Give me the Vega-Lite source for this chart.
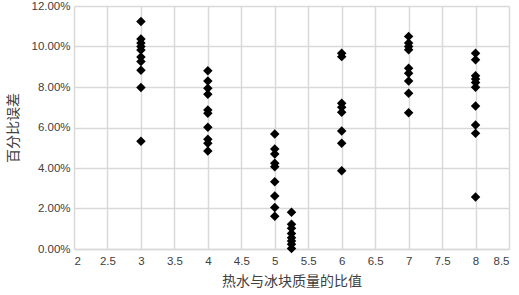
{
  "$schema": "https://vega.github.io/schema/vega-lite/v6.json",
  "autosize": {"type": "none"},
  "padding": {"left": 74, "top": 6, "right": 10, "bottom": 46},
  "width": 435,
  "height": 243,
  "background": "white",
  "config": {"view": {"stroke": null}},
  "data": {"values": [
    {"ratio": 3, "err": 0.1124}, {"ratio": 3, "err": 0.1037}, {"ratio": 3, "err": 0.1017}, {"ratio": 3, "err": 0.1000}, {"ratio": 3, "err": 0.0983},
    {"ratio": 3, "err": 0.0948}, {"ratio": 3, "err": 0.0926}, {"ratio": 3, "err": 0.0883}, {"ratio": 3, "err": 0.0797}, {"ratio": 3, "err": 0.0532},
    {"ratio": 4, "err": 0.0880}, {"ratio": 4, "err": 0.0830}, {"ratio": 4, "err": 0.0794}, {"ratio": 4, "err": 0.0764}, {"ratio": 4, "err": 0.0687},
    {"ratio": 4, "err": 0.0670}, {"ratio": 4, "err": 0.0601}, {"ratio": 4, "err": 0.0542}, {"ratio": 4, "err": 0.0522}, {"ratio": 4, "err": 0.0484},
    {"ratio": 5, "err": 0.0568}, {"ratio": 5, "err": 0.0494}, {"ratio": 5, "err": 0.0469}, {"ratio": 5, "err": 0.0423}, {"ratio": 5, "err": 0.0406},
    {"ratio": 5, "err": 0.0332}, {"ratio": 5, "err": 0.0262}, {"ratio": 5, "err": 0.0205}, {"ratio": 5, "err": 0.0162},
    {"ratio": 5.25, "err": 0.0182}, {"ratio": 5.25, "err": 0.0122}, {"ratio": 5.25, "err": 0.0102}, {"ratio": 5.25, "err": 0.0076}, {"ratio": 5.25, "err": 0.0056},
    {"ratio": 5.25, "err": 0.0040}, {"ratio": 5.25, "err": 0.0023}, {"ratio": 5.25, "err": 0.0002},
    {"ratio": 6, "err": 0.0967}, {"ratio": 6, "err": 0.0950}, {"ratio": 6, "err": 0.0720}, {"ratio": 6, "err": 0.0700}, {"ratio": 6, "err": 0.0675},
    {"ratio": 6, "err": 0.0583}, {"ratio": 6, "err": 0.0522}, {"ratio": 6, "err": 0.0386},
    {"ratio": 7, "err": 0.1050}, {"ratio": 7, "err": 0.1017}, {"ratio": 7, "err": 0.1000}, {"ratio": 7, "err": 0.0984}, {"ratio": 7, "err": 0.0893},
    {"ratio": 7, "err": 0.0868}, {"ratio": 7, "err": 0.0830}, {"ratio": 7, "err": 0.0769}, {"ratio": 7, "err": 0.0673},
    {"ratio": 8, "err": 0.0967}, {"ratio": 8, "err": 0.0934}, {"ratio": 8, "err": 0.0855}, {"ratio": 8, "err": 0.0839}, {"ratio": 8, "err": 0.0822},
    {"ratio": 8, "err": 0.0799}, {"ratio": 8, "err": 0.0706}, {"ratio": 8, "err": 0.0612}, {"ratio": 8, "err": 0.0571}, {"ratio": 8, "err": 0.0257}
  ]},
  "mark": {"type": "point", "shape": "diamond", "filled": true, "color": "black", "opacity": 1, "size": 90},
  "encoding": {
    "x": {
      "field": "ratio", "type": "quantitative",
      "scale": {"domain": [2, 8.5], "nice": false, "zero": false},
      "axis": {
        "values": [2, 2.5, 3, 3.5, 4, 4.5, 5, 5.5, 6, 6.5, 7, 7.5, 8, 8.5],
        "format": "~g",
        "title": "热水与冰块质量的比值",
        "titleFont": "Noto Sans CJK SC", "titleFontSize": 14, "titleFontWeight": "normal", "titleColor": "#404040", "titlePadding": 8,
        "labelFont": "Liberation Sans", "labelFontSize": 11.5, "labelColor": "#404040", "labelPadding": 6,
        "ticks": false, "domainColor": "#d9d9d9", "domainWidth": 1.5,
        "gridColor": "#d9d9d9", "gridWidth": 1.5
      }
    },
    "y": {
      "field": "err", "type": "quantitative",
      "scale": {"domain": [0, 0.12], "nice": false},
      "axis": {
        "values": [0, 0.02, 0.04, 0.06, 0.08, 0.10, 0.12],
        "format": ".2%",
        "title": "百分比误差",
        "titleFont": "Noto Sans CJK SC", "titleFontSize": 14, "titleFontWeight": "normal", "titleColor": "#404040", "titlePadding": 10,
        "labelFont": "Liberation Sans", "labelFontSize": 11.5, "labelColor": "#404040", "labelPadding": 4,
        "ticks": false, "domain": false,
        "gridColor": "#d9d9d9", "gridWidth": 1.5
      }
    }
  }
}
